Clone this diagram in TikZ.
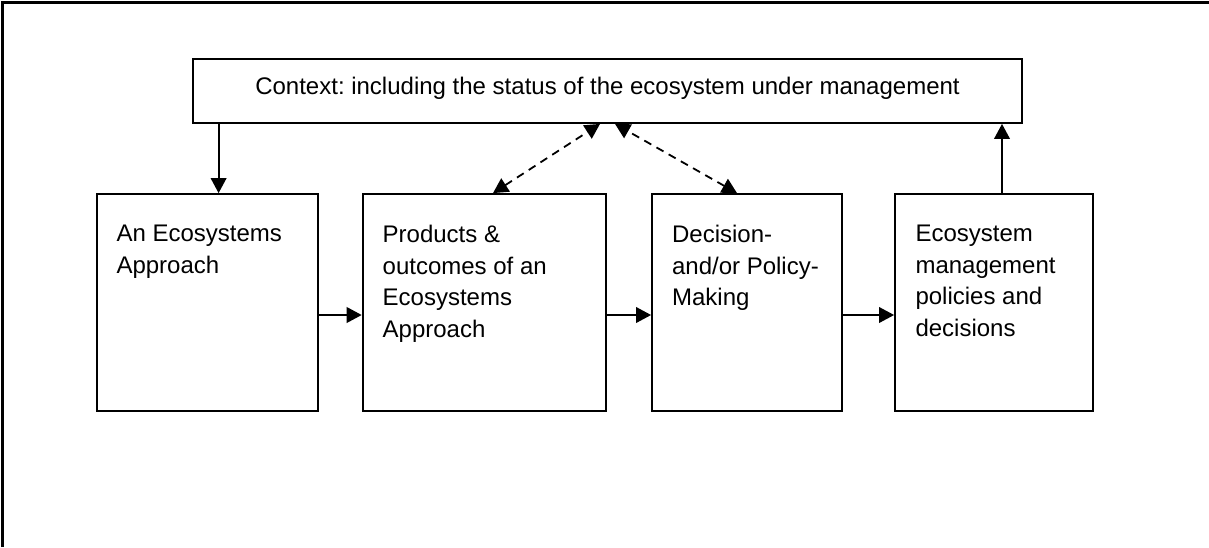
\documentclass[tikz,border=0pt]{standalone}
\usepackage{fontspec}
\setmainfont{Liberation Sans}
\usetikzlibrary{arrows.meta,calc}
\frenchspacing
\begin{document}
\begin{tikzpicture}[x=1pt,y=1pt,
  boxstyle/.style={draw,line width=0.9pt,rectangle,inner sep=0pt},
  lbl/.style={anchor=north west,align=left,inner sep=0pt,font=\fontsize{12}{15.75}\selectfont},
  arr/.style={line width=0.9pt,-{Triangle[length=7.5pt,width=7.8pt]}},
  darr/.style={line width=0.9pt,dash pattern=on 4pt off 3pt,{Triangle[length=7.5pt,width=7.8pt]}-{Triangle[length=7.5pt,width=7.8pt]}}
]
\useasboundingbox (0,0) rectangle (604.5,-273.5);
% outer frame (top and left edges only)
\draw[line width=1.2pt] (1.25,-273.5) -- (1.25,-1.25) -- (604.5,-1.25);

% boxes
\node[boxstyle,minimum width=414.5pt,minimum height=32pt] (ctx) at (303.75,-45.5) {};
\node[boxstyle,minimum width=110.5pt,minimum height=108.5pt] (b1) at (103.75,-151.25) {};
\node[boxstyle,minimum width=121.7pt,minimum height=108.5pt] (b2) at (242.15,-151.25) {};
\node[boxstyle,minimum width=95pt,minimum height=108.5pt] (b3) at (373.5,-151.25) {};
\node[boxstyle,minimum width=99pt,minimum height=108.5pt] (b4) at (497,-151.25) {};

% texts
\node[anchor=base,inner sep=0pt,font=\fontsize{12}{15.75}\selectfont] (tctx) at (303.75,-47) {Context: including the status of the ecosystem under management};
\node[lbl] (t1) at ($(b1.north west)+(10pt,-15.9pt)$) {An Ecosystems\\Approach};
\node[lbl] (t2) at ($(b2.north west)+(10.3pt,-15.9pt)$) {Products \&\\outcomes of an\\Ecosystems\\Approach};
\node[lbl] (t3) at ($(b3.north west)+(10.3pt,-15.9pt)$) {Decision-\\and/or Policy-\\Making};
\node[lbl] (t4) at ($(b4.north west)+(10.5pt,-15.9pt)$) {Ecosystem\\management\\policies and\\decisions};

% helper coordinates
\coordinate (xa) at (109.3,0);
\coordinate (xb) at (501,0);
\coordinate (hy) at (0,-157.5);
\coordinate (d2) at (246.5,0);
\coordinate (dc1) at (300,0);
\coordinate (d3) at (368.5,0);
\coordinate (dc2) at (307.5,0);

% connectors
\draw[arr] (ctx.south -| xa) -- (b1.north -| xa);
\draw[arr] (b4.north -| xb) -- (ctx.south -| xb);
\draw[arr] (b1.east |- hy) -- (b2.west |- hy);
\draw[arr] (b2.east |- hy) -- (b3.west |- hy);
\draw[arr] (b3.east |- hy) -- (b4.west |- hy);
\draw[darr] (b2.north -| d2) -- (ctx.south -| dc1);
\draw[darr] (b3.north -| d3) -- (ctx.south -| dc2);
\end{tikzpicture}
\end{document}
